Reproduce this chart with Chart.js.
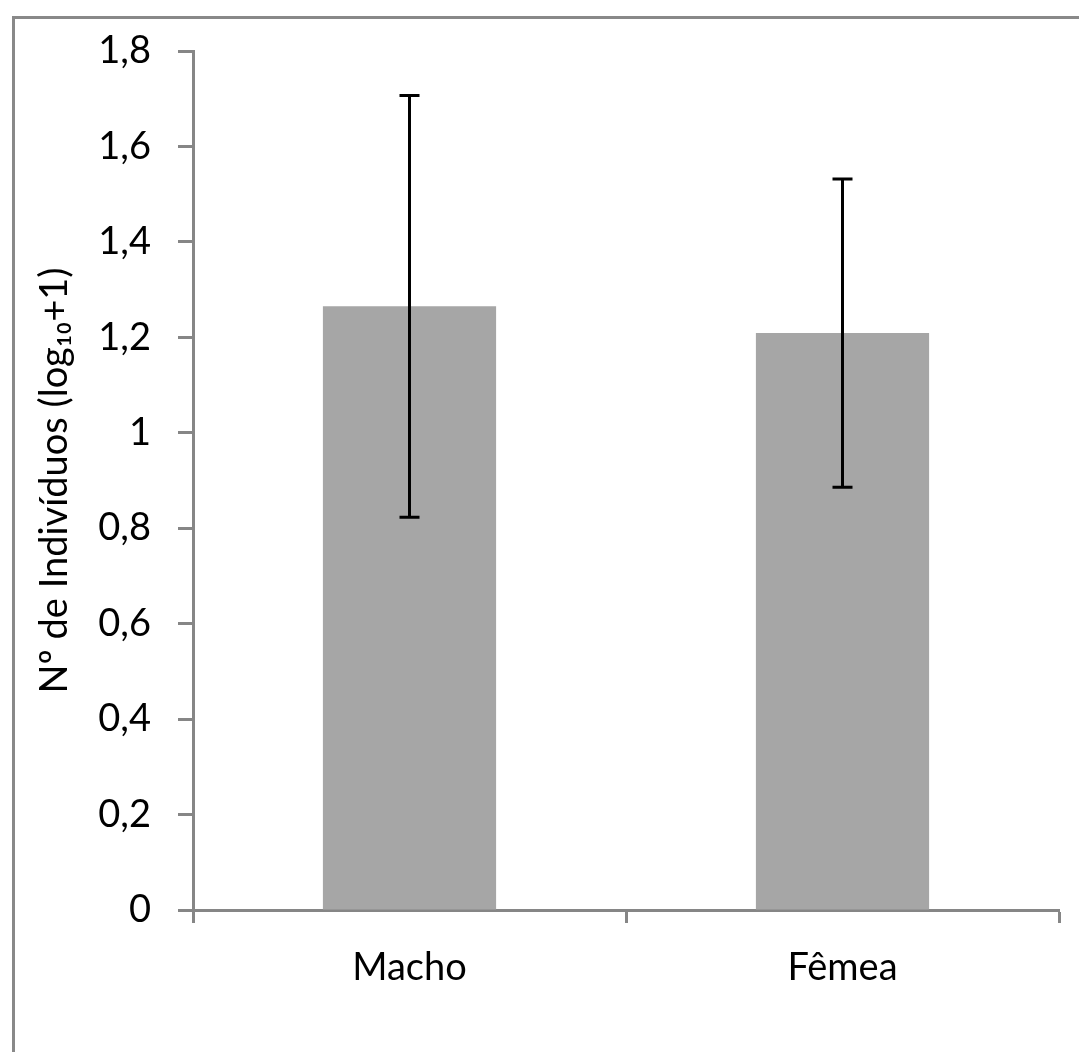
<!DOCTYPE html>
<html>
<head>
<meta charset="utf-8">
<script src="https://cdn.jsdelivr.net/npm/chart.js@4"></script>
<style>
  body { margin: 0; background: #fff; }
  #frame { position: absolute; left: 12px; top: 16px; width: 1200px; height: 1200px;
           border-left: 3px solid #898989; border-top: 3px solid #898989; }
  #wrap { position: absolute; left: 0; top: 0; width: 1079px; height: 1052px; }
</style>
</head>
<body>
<div id="frame"></div>
<div id="wrap"><canvas id="myChart"></canvas></div>
<script>
const categories = ['Macho', 'Fêmea'];
const means = [1.265, 1.209];
const errors = [0.442, 0.323];
const yTicks = [0, 0.2, 0.4, 0.6, 0.8, 1, 1.2, 1.4, 1.6, 1.8];

const axisColor = '#868686';
const font = { family: 'Lato, sans-serif', size: 38 };

// error bars drawn after the bars
const errorBars = {
    id: 'errorBars',
    afterDatasetsDraw(chart) {
        const ctx = chart.ctx;
        const y = chart.scales.y;
        const meta = chart.getDatasetMeta(0);
        ctx.save();
        ctx.strokeStyle = '#000';
        ctx.lineWidth = 3;
        meta.data.forEach((bar, i) => {
            const x = bar.x;
            const top = y.getPixelForValue(means[i] + errors[i]);
            const bot = y.getPixelForValue(means[i] - errors[i]);
            ctx.beginPath();
            ctx.moveTo(x, top); ctx.lineTo(x, bot);
            ctx.moveTo(x - 10, top); ctx.lineTo(x + 10, top);
            ctx.moveTo(x - 10, bot); ctx.lineTo(x + 10, bot);
            ctx.stroke();
        });
        ctx.restore();
    }
};

const ctx = document.getElementById('myChart').getContext('2d');
new Chart(ctx, {
    type: 'bar',
    data: {
        labels: categories,
        datasets: [{
            data: means,
            backgroundColor: '#a6a6a6',
            barPercentage: 0.4,
            categoryPercentage: 1
        }]
    },
    options: {
        responsive: true,
        maintainAspectRatio: false,
        animation: false,
        layout: { padding: { left: 0, top: 51, right: 20, bottom: 42 } },
        scales: {
            y: {
                min: 0,
                max: 1.8,
                afterBuildTicks: (scale) => { scale.ticks = yTicks.map(v => ({ value: v })); },
                afterFit: (scale) => { scale.width = 193; },
                ticks: {
                    color: '#000',
                    font: font,
                    padding: 27,
                    callback: (v) => String(v).replace('.', ',')
                },
                grid: { drawOnChartArea: false, tickLength: 15, tickWidth: 3, tickColor: axisColor },
                border: { color: axisColor, width: 3 },
                title: {
                    display: true,
                    text: 'Nº de Indivíduos (log₁₀+1)',
                    color: '#000',
                    font: font,
                    padding: { top: 32, bottom: 0 }
                }
            },
            x: {
                afterFit: (scale) => { scale.height = 100; },
                ticks: { color: '#000', font: font, padding: 22 },
                grid: { drawOnChartArea: false, offset: true, tickLength: 13, tickWidth: 3, tickColor: axisColor },
                border: { color: axisColor, width: 3 }
            }
        },
        plugins: {
            legend: { display: false },
            tooltip: { enabled: false }
        }
    },
    plugins: [errorBars]
});
</script>
</body>
</html>
